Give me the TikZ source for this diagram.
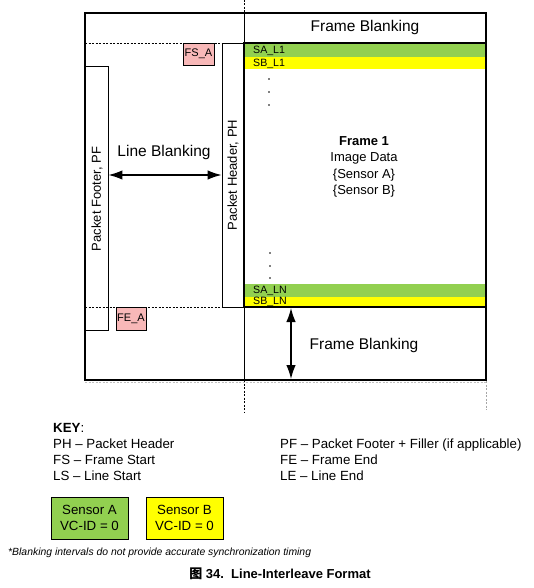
\documentclass[tikz,border=0pt]{standalone}
\usepackage{fontspec}
\setmainfont{Liberation Sans}
\newfontfamily\cjk{Noto Sans CJK SC}
\usetikzlibrary{arrows.meta}
\definecolor{sgreen}{HTML}{92D050}
\definecolor{syellow}{HTML}{FFFF00}
\definecolor{spink}{HTML}{F8B8B8}
\tikzset{
  thickline/.style={line width=2pt},
  thinline/.style={line width=0.9pt},
  bigtxt/.style={font=\fontsize{15.5}{18}\selectfont, inner sep=0pt},
  midtxt/.style={font=\fontsize{13}{16.3}\selectfont, inner sep=0pt},
  bandtxt/.style={font=\fontsize{10.6}{12}\selectfont, inner sep=0pt, anchor=west},
  tagbox/.style={draw, thinline, fill=spink, font=\fontsize{11}{12}\selectfont, inner sep=0pt},
  keytxt/.style={font=\fontsize{13.3}{15}\selectfont, inner sep=0pt, anchor=base west},
  sensorbox/.style={draw, thinline, minimum width=77pt, minimum height=42pt, inner sep=0pt, align=center, font=\fontsize{13.3}{15.7}\selectfont},
  dimarrow/.style={line width=1.3pt, {Latex[length=14pt,width=9.5pt]}-{Latex[length=14pt,width=9.5pt]}},
  guide/.style={dashed, line width=0.6pt, dash pattern=on 2pt off 1.5pt},
  dotmark/.style={circle, fill, inner sep=0pt, minimum size=1.6pt}
}
\begin{document}
\begin{tikzpicture}[x=1pt,y=-1pt]
\useasboundingbox (0,0) rectangle (534,588);
% colour bands
\fill[sgreen] (244,43) rectangle (486,57);
\fill[syellow] (244,57) rectangle (486,69);
\fill[sgreen] (244,284) rectangle (486,297);
\fill[syellow] (244,297) rectangle (486,307);
\node[bandtxt] (sal1) at (253,50.5) {SA\_L1};
\node[bandtxt] (sbl1) at (253,63.5) {SB\_L1};
\node[bandtxt] (saln) at (253,290.5) {SA\_LN};
\node[bandtxt] (sbln) at (253,302) {SB\_LN};
% dots
\foreach \y [count=\i] in {79,92,105} \node[dotmark] (dt\i) at (269,\y) {};
\foreach \y [count=\i] in {253,266,278} \node[dotmark] (db\i) at (270,\y) {};
% guides
\draw[guide] (244,0) -- (244,13);
\draw[guide] (244,380) -- (244,413);
\draw[guide, gray!70] (486,381) -- (486,410);
\draw[guide, gray!50] (85,382.5) -- (486,382.5);
\draw[guide] (85,43) -- (222,43);
\draw[guide] (85,307) -- (222,307);
% outer frame and divider
\draw[thinline] (244,13) -- (244,380);
\draw[thickline] (85,13) rectangle (486,380);
% packet boxes
\node[draw, thinline, minimum width=23pt, minimum height=264pt, inner sep=0pt] (pf) at (96.5,198) {};
\node[draw, thinline, minimum width=22pt, minimum height=264pt, inner sep=0pt] (ph) at (233,175) {};
\node[midtxt, rotate=90] (pftxt) at (97,199) {Packet Footer, PF};
\node[midtxt, rotate=90] (phtxt) at (233,175) {Packet Header, PH};
% image frame
\draw[thickline] (244,43) rectangle (486,307);
\node[draw=none, minimum width=242pt, minimum height=264pt] (img) at (365,175) {};
% tags
\node[tagbox, minimum width=31pt, minimum height=22pt] (fsa) at (198.5,54) {FS\_A};
\node[tagbox, minimum width=30pt, minimum height=23pt] (fea) at (131,318.5) {FE\_A};
% texts
\node[bigtxt] (fbtop) at (365,27) {Frame Blanking};
\node[bigtxt] (lb) at (164,152) {Line Blanking};
\node[bigtxt] (fbbot) at (364,345) {Frame Blanking};
\node[midtxt, align=center] (frame) at (364,167) {\textbf{Frame 1}\\Image Data\\\{Sensor A\}\\\{Sensor B\}};
% arrows
\coordinate (lbl) at (pf.east |- 0,175);
\coordinate (lbr) at (ph.west |- 0,175);
\draw[dimarrow] (lbl) -- (lbr);
\coordinate (fbt) at (291,308);
\coordinate (fbb) at (291,379);
\draw[dimarrow] (fbt) -- (fbb);
% key
\node[keytxt] (key) at (53,432) {\textbf{KEY}:};
\node[keytxt] (k1) at (53,448.5) {PH – Packet Header};
\node[keytxt] (k2) at (53,464.5) {FS – Frame Start};
\node[keytxt] (k3) at (53,480.5) {LS – Line Start};
\node[keytxt] (k4) at (280,448.5) {PF – Packet Footer + Filler (if applicable)};
\node[keytxt] (k5) at (280,464.5) {FE – Frame End};
\node[keytxt] (k6) at (280,480.5) {LE – Line End};
\node[sensorbox, fill=sgreen] (sa) at (89.5,518) {Sensor A\\VC-ID = 0};
\node[sensorbox, fill=syellow] (sb) at (184.5,518) {Sensor B\\VC-ID = 0};
\node[font=\fontsize{10.4}{12}\selectfont\itshape, inner sep=0pt, anchor=west] (note) at (8,553) {*Blanking intervals do not provide accurate synchronization timing};
\node[font=\fontsize{13}{15}\selectfont\bfseries, inner sep=0pt] (cap) at (280,574) {{\cjk 图} 34.\ \ Line-Interleave Format};
\end{tikzpicture}
\end{document}
